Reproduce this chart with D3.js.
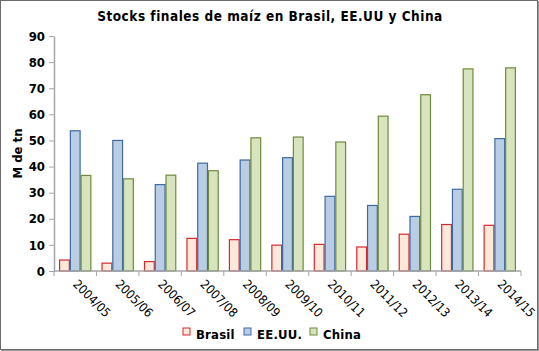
<!DOCTYPE html>
<html>
<head>
<meta charset="utf-8">
<script src="https://cdn.jsdelivr.net/npm/d3@7"></script>
<style>
  body { margin: 0; background: #fff; }
  svg { font-family: 'DejaVu Sans Condensed', 'DejaVu Sans', sans-serif; font-stretch: condensed; }
</style>
</head>
<body>
<div id="chart"></div>
<script>
// Campaigns and stocks (M de tn)
const seasons = ['2004/05', '2005/06', '2006/07', '2007/08', '2008/09', '2009/10',
  '2010/11', '2011/12', '2012/13', '2013/14', '2014/15']
const brasil = [4.2, 3.0, 3.6, 12.5, 12.0, 9.9, 10.2, 9.2, 14.1, 17.8, 17.5]
const eeuu = [53.7, 50.0, 33.1, 41.3, 42.5, 43.4, 28.6, 25.1, 20.9, 31.3, 50.7]
const china = [36.6, 35.3, 36.7, 38.4, 51.0, 51.3, 49.4, 59.3, 67.5, 77.4, 77.8]
const seriesNames = ['Brasil', 'EE.UU.', 'China']
const yTicks = [0, 10, 20, 30, 40, 50, 60, 70, 80, 90]

const drawChart = () => {
  const width = 539
  const height = 351
  const margin = { top: 36, right: 18, bottom: 80, left: 54 }
  const innerWidth = width - margin.left - margin.right
  const innerHeight = height - margin.top - margin.bottom

  const fills = ['#fde9d9', '#b9cde5', '#d7e4bd']
  const strokes = ['#d8282e', '#3f6aa0', '#6f8a3c']

  const svg = d3.select('#chart')
    .append('svg')
    .attr('width', width)
    .attr('height', height)

  // Outer frame
  svg.append('rect')
    .attr('x', 0.5).attr('y', 0.5)
    .attr('width', width - 2).attr('height', height - 2)
    .attr('fill', '#fff')
    .attr('stroke', '#6b6b6b')
  svg.append('line')
    .attr('x1', 1).attr('x2', width)
    .attr('y1', height - 0.5).attr('y2', height - 0.5)
    .attr('stroke', '#9a9a9a')
  svg.append('line')
    .attr('x1', width - 0.5).attr('x2', width - 0.5)
    .attr('y1', 1).attr('y2', height)
    .attr('stroke', '#9a9a9a')

  // Title
  svg.append('text')
    .attr('x', 270)
    .attr('y', 21)
    .attr('text-anchor', 'middle')
    .attr('font-size', 13.5)
    .attr('font-weight', 'bold')
    .attr('letter-spacing', 0.5)
    .attr('fill', '#000')
    .text('Stocks finales de maíz en Brasil, EE.UU y China')

  const g = svg.append('g')
    .attr('transform', `translate(${margin.left}, ${margin.top})`)

  // Scales
  const x0 = d3.scaleBand()
    .domain(seasons)
    .range([0, innerWidth])
    .paddingInner(0.24)
    .paddingOuter(0.12)
  const x1 = d3.scaleBand()
    .domain(seriesNames)
    .range([0, x0.bandwidth()])
  const y = d3.scaleLinear()
    .domain([0, 90])
    .range([innerHeight, 0])

  const rows = seasons.map((s, i) => ({ season: s, values: [brasil[i], eeuu[i], china[i]] }))

  // Left axis
  const yAxis = g.append('g')
    .call(d3.axisLeft(y).tickValues(yTicks).tickSize(5).tickSizeOuter(0))
  yAxis.select('.domain').attr('stroke', '#a6a6a6').attr('stroke-width', 1.5)
  yAxis.selectAll('.tick line').attr('stroke', '#a6a6a6')
  yAxis.selectAll('.tick text')
    .attr('font-family', 'DejaVu Sans')
    .attr('font-size', 13)
    .attr('font-weight', 'bold')
    .attr('fill', '#000')
    .attr('x', -9)

  // Y axis title
  g.append('text')
    .attr('transform', `translate(-32, ${y(45)}) rotate(-90)`)
    .attr('text-anchor', 'middle')
    .attr('font-size', 13)
    .attr('font-weight', 'bold')
    .text('M de tn')

  // Bars
  const groups = g.selectAll('.group')
    .data(rows)
    .join('g')
    .attr('transform', d => `translate(${x0(d.season)}, 0)`)

  groups.selectAll('rect')
    .data(d => d.values.map((v, k) => ({ k, v })))
    .join('rect')
    .attr('x', d => x1(seriesNames[d.k]) + 0.5)
    .attr('y', d => y(d.v))
    .attr('width', x1.bandwidth() - 1)
    .attr('height', d => y(0) - y(d.v))
    .attr('fill', d => fills[d.k])
    .attr('stroke', d => strokes[d.k])
    .attr('stroke-width', 1.2)

  // Bottom axis, ticks on category boundaries
  const step = innerWidth / seasons.length
  const xAxis = g.append('g')
    .attr('transform', `translate(0, ${innerHeight})`)
  xAxis.append('line')
    .attr('x1', 0).attr('x2', innerWidth)
    .attr('stroke', '#a6a6a6').attr('stroke-width', 1.5)
  xAxis.selectAll('.tick-b')
    .data(d3.range(seasons.length + 1))
    .join('line')
    .attr('x1', i => i * step).attr('x2', i => i * step)
    .attr('y1', 0).attr('y2', 5)
    .attr('stroke', '#a6a6a6')
  xAxis.selectAll('.label')
    .data(seasons)
    .join('text')
    .attr('transform', (d, i) => `translate(${(i + 0.5) * step - 3}, 14) rotate(45)`)
    .attr('font-size', 12.5)
    .attr('fill', '#000')
    .text(d => d)

  // Legend
  const legendX = [183, 244, 310]
  const legend = svg.append('g')
    .attr('transform', 'translate(0, 334)')
  seriesNames.forEach((name, k) => {
    legend.append('rect')
      .attr('x', legendX[k]).attr('y', -6)
      .attr('width', 7).attr('height', 7)
      .attr('fill', fills[k])
      .attr('stroke', strokes[k])
    legend.append('text')
      .attr('x', legendX[k] + 13)
      .attr('y', 4.5)
      .attr('font-size', 13)
      .attr('font-weight', 'bold')
      .attr('letter-spacing', 0.2)
      .text(name)
  })
}

drawChart()
</script>
</body>
</html>
